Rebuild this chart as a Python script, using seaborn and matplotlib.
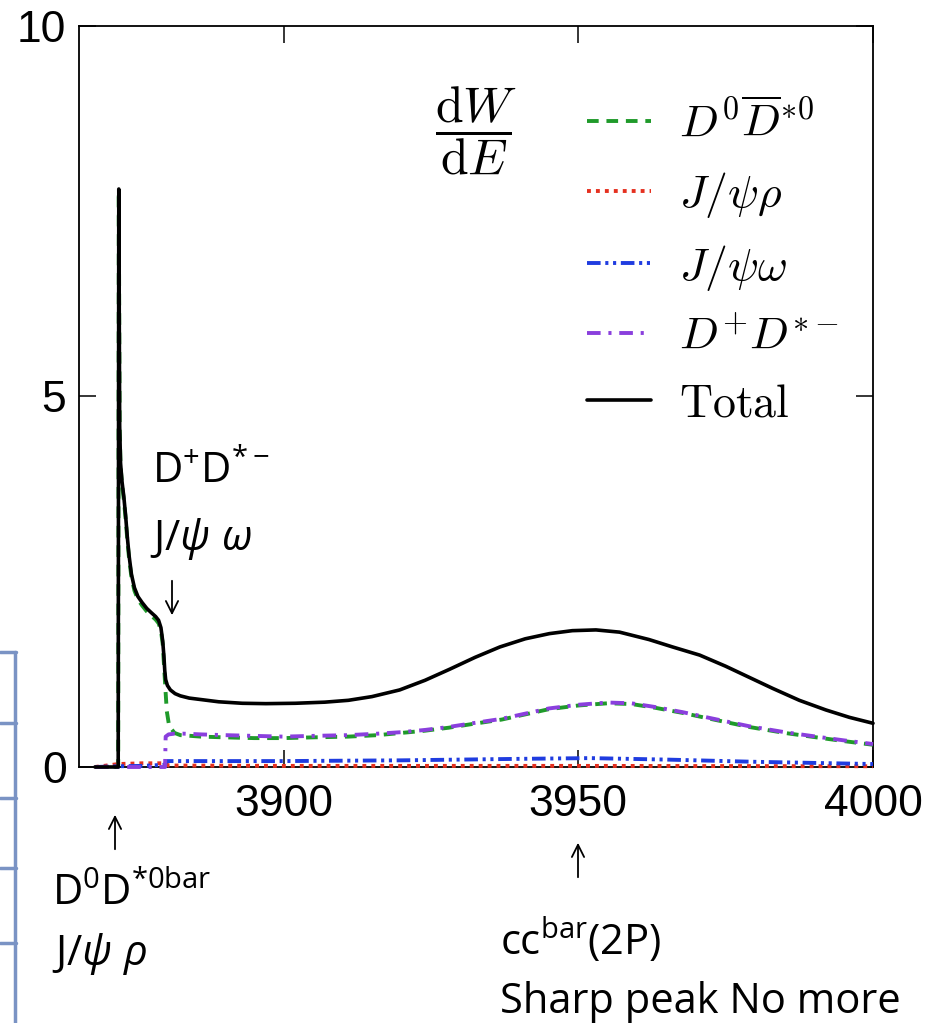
import matplotlib
matplotlib.use("Agg")
import matplotlib.pyplot as plt
from matplotlib.lines import Line2D
import seaborn as sns

# energy (MeV) and dW/dE
E_total = [3868.0, 3871.95, 3872.05, 3872.2, 3872.35, 3872.6, 3872.9, 3873.2, 3873.5, 3873.8,
           3874.2, 3874.7, 3875.3, 3876.0, 3876.8, 3877.6, 3878.3, 3878.8, 3879.2, 3879.5,
           3879.7, 3879.85, 3880.0, 3880.3, 3880.8, 3881.6, 3882.5, 3884.0, 3886.0, 3889.0,
           3893.0, 3897.0, 3902.0, 3907.0, 3911.0, 3915.0, 3919.7, 3924.0, 3928.2, 3932.5,
           3936.7, 3941.0, 3945.1, 3949.0, 3953.0, 3957.0, 3962.0, 3966.0, 3970.6, 3975.0,
           3979.0, 3983.0, 3987.5, 3992.0, 3996.0, 4000.0]
total = [0, 0, 7.8, 4.6, 4.1, 3.85, 3.65, 3.4, 3.1, 2.85,
         2.6, 2.42, 2.30, 2.22, 2.14, 2.08, 2.03, 1.98, 1.88, 1.70,
         1.50, 1.30, 1.18, 1.10, 1.04, 0.99, 0.96, 0.93, 0.91, 0.88,
         0.86, 0.855, 0.86, 0.875, 0.90, 0.95, 1.04, 1.17, 1.32, 1.48,
         1.62, 1.73, 1.80, 1.84, 1.85, 1.82, 1.72, 1.62, 1.51, 1.36,
         1.21, 1.06, 0.90, 0.77, 0.67, 0.59]

E_d0 = [3868.0, 3871.95, 3872.05, 3872.2, 3872.35, 3872.6, 3872.9, 3873.2, 3873.5, 3873.8,
        3874.2, 3874.7, 3875.3, 3876.0, 3876.8, 3877.6, 3878.3, 3878.8, 3879.2, 3879.5,
        3879.7, 3880.0, 3880.2, 3880.6, 3881.5, 3882.5, 3886.0, 3890.0, 3895.0, 3900.0,
        3905.0, 3911.0, 3916.0, 3920.0, 3924.0, 3928.0, 3932.0, 3937.0, 3941.0, 3945.0,
        3950.0, 3955.0, 3959.0, 3963.0, 3967.7, 3973.0, 3979.0, 3985.0, 3990.4, 3995.0,
        4000.0]
d0 = [0, 0, 7.76, 4.56, 4.06, 3.81, 3.61, 3.36, 3.06, 2.81,
      2.56, 2.38, 2.26, 2.18, 2.10, 2.04, 1.99, 1.94, 1.84, 1.66,
      1.40, 1.00, 0.75, 0.55, 0.46, 0.43, 0.41, 0.40, 0.39, 0.39,
      0.40, 0.41, 0.43, 0.46, 0.49, 0.53, 0.58, 0.64, 0.71, 0.78,
      0.83, 0.86, 0.85, 0.80, 0.73, 0.64, 0.54, 0.46, 0.40, 0.35,
      0.30]

E_dp = [3868.0, 3879.9, 3880.0, 3880.5, 3881.5, 3883.0, 3886.0, 3890.0, 3895.0, 3900.0,
        3905.0, 3911.0, 3916.0, 3920.0, 3924.0, 3928.0, 3932.0, 3937.0, 3941.0, 3945.0,
        3950.0, 3955.0, 3959.0, 3963.0, 3967.7, 3973.0, 3979.0, 3985.0, 3990.4, 3995.0,
        4000.0]
dp = [0, 0, 0.41, 0.44, 0.45, 0.45, 0.44, 0.43, 0.42, 0.41,
      0.42, 0.43, 0.45, 0.47, 0.50, 0.54, 0.59, 0.65, 0.72, 0.79,
      0.84, 0.87, 0.86, 0.81, 0.74, 0.65, 0.55, 0.47, 0.41, 0.36,
      0.31]

E_omega = [3868.0, 3872.0, 3876.0, 3879.9, 3880.1, 3885.0, 3900.0, 3920.0, 3940.0, 3952.0,
           3965.0, 3980.0, 4000.0]
omega = [0, 0.01, 0.015, 0.03, 0.08, 0.08, 0.08, 0.09, 0.11, 0.12,
         0.10, 0.07, 0.04]

E_rho = [3868.0, 3872.0, 3876.0, 3879.9, 3880.5, 3900.0, 3950.0, 4000.0]
rho = [0, 0.04, 0.05, 0.05, 0.02, 0.015, 0.015, 0.01]

labels = [r'$D^0\overline{D}^{*0}$', r'$J/\psi\rho$', r'$J/\psi\omega$',
          r'$D^{+}D^{*-}$', r'$\mathrm{Total}$']

sns.set_style("ticks")
plt.rcParams['font.family'] = ['Liberation Sans', 'DejaVu Sans']
plt.rcParams['text.color'] = 'black'
plt.rcParams['xtick.color'] = 'black'
plt.rcParams['ytick.color'] = 'black'
plt.rcParams['axes.edgecolor'] = 'black'
plt.rcParams['mathtext.fontset'] = 'cm'
plt.rcParams['mathtext.rm'] = 'Open Sans'
plt.rcParams['mathtext.it'] = 'Open Sans:italic'
plt.rcParams['mathtext.bf'] = 'Open Sans:bold'

W, H = 943, 1023
fig = plt.figure(figsize=(W / 100, H / 100), dpi=100)
ax = fig.add_axes([79 / W, 1 - 767 / H, (873 - 79) / W, (767 - 26) / H])

styles = [
    (E_d0, d0, '#1f9a2a', (0, (3, 2))),
    (E_rho, rho, '#e5301f', (0, (1, 1.3))),
    (E_omega, omega, '#1f3ce0', (0, (3.5, 1.2, 0.8, 1.2, 0.8, 1.2))),
    (E_dp, dp, '#8a3fdd', (0, (3.5, 2, 0.8, 2))),
]
for (xs, ys, c, ls), lab in zip(styles, labels[:4]):
    sns.lineplot(x=xs, y=ys, ax=ax, color=c, linestyle=ls, lw=2.8, estimator=None,
                 label=lab, clip_on=False, zorder=3)
sns.lineplot(x=E_total, y=total, ax=ax, color='black', lw=2.6, estimator=None,
             label=labels[4], clip_on=False, zorder=3.5)

ax.set_xlim(3865.3, 4000)
ax.set_ylim(0, 10)
ax.set_xticks([3900, 3950, 4000])
ax.set_yticks([0, 5, 10])
ax.tick_params(direction='in', top=True, right=True, length=12, width=1.1, labelsize=32)
ax.tick_params(axis='x', pad=12)
ax.tick_params(axis='y', pad=9)
for s in ax.spines.values():
    s.set_linewidth(1.3)

ax.legend(loc='upper left', bbox_to_anchor=(587 / W, 1 - 102 / H), bbox_transform=fig.transFigure,
          frameon=False, borderpad=0, borderaxespad=0, handlelength=1.4, handletextpad=0.6,
          labelspacing=0.5, prop={'size': 33})
fig.text(435 / W, 1 - 84 / H, r'$\dfrac{\mathrm{d}W}{\mathrm{d}E}$', fontsize=36, va='top', ha='left',
         math_fontfamily='cm')

# annotations around the plot
ann = dict(fontsize=30, math_fontfamily='custom', family=['Open Sans', 'DejaVu Sans'])
fig.text(152 / W, 1 - 483 / H, r'$\mathrm{D^{+}D^{*-}}$', va='baseline', **ann)
fig.text(150 / W, 1 - 550 / H, r'$\mathrm{J/}\psi\ \omega$', va='baseline', **ann)
fig.text(52 / W, 1 - 905 / H, r'$\mathrm{D^{0}D^{*0bar}}$', va='baseline', **ann)
fig.text(52 / W, 1 - 965 / H, r'$\mathrm{J/}\psi\ \rho$', va='baseline', **ann)
fig.text(500 / W, 1 - 955 / H, r'$\mathrm{cc^{bar}(2P)}$', va='baseline', **ann)
fig.text(500 / W, 1 - 1013 / H, 'Sharp peak No more', va='baseline', fontsize=30,
         family=['Open Sans', 'DejaVu Sans'])

arrows = [(172, 578, 618), (115, 852, 812), (578, 880, 840)]
for x, y0, y1 in arrows:
    ax.annotate('', xy=(x, H - y1), xytext=(x, H - y0), xycoords='figure pixels',
                textcoords='figure pixels', annotation_clip=False,
                arrowprops=dict(arrowstyle='->', lw=1.3, mutation_scale=22, color='black'))

# edge of a table cut off at the left
blue = '#7a93c4'
for y in [652, 723, 798, 868, 943]:
    fig.add_artist(Line2D([0, 16 / W], [1 - y / H, 1 - y / H], color=blue, lw=2.5,
                          transform=fig.transFigure))
fig.add_artist(Line2D([15 / W, 15 / W], [1 - 652 / H, 0], color=blue, lw=2.5,
                      transform=fig.transFigure))

fig.savefig('out.png', dpi=100)
